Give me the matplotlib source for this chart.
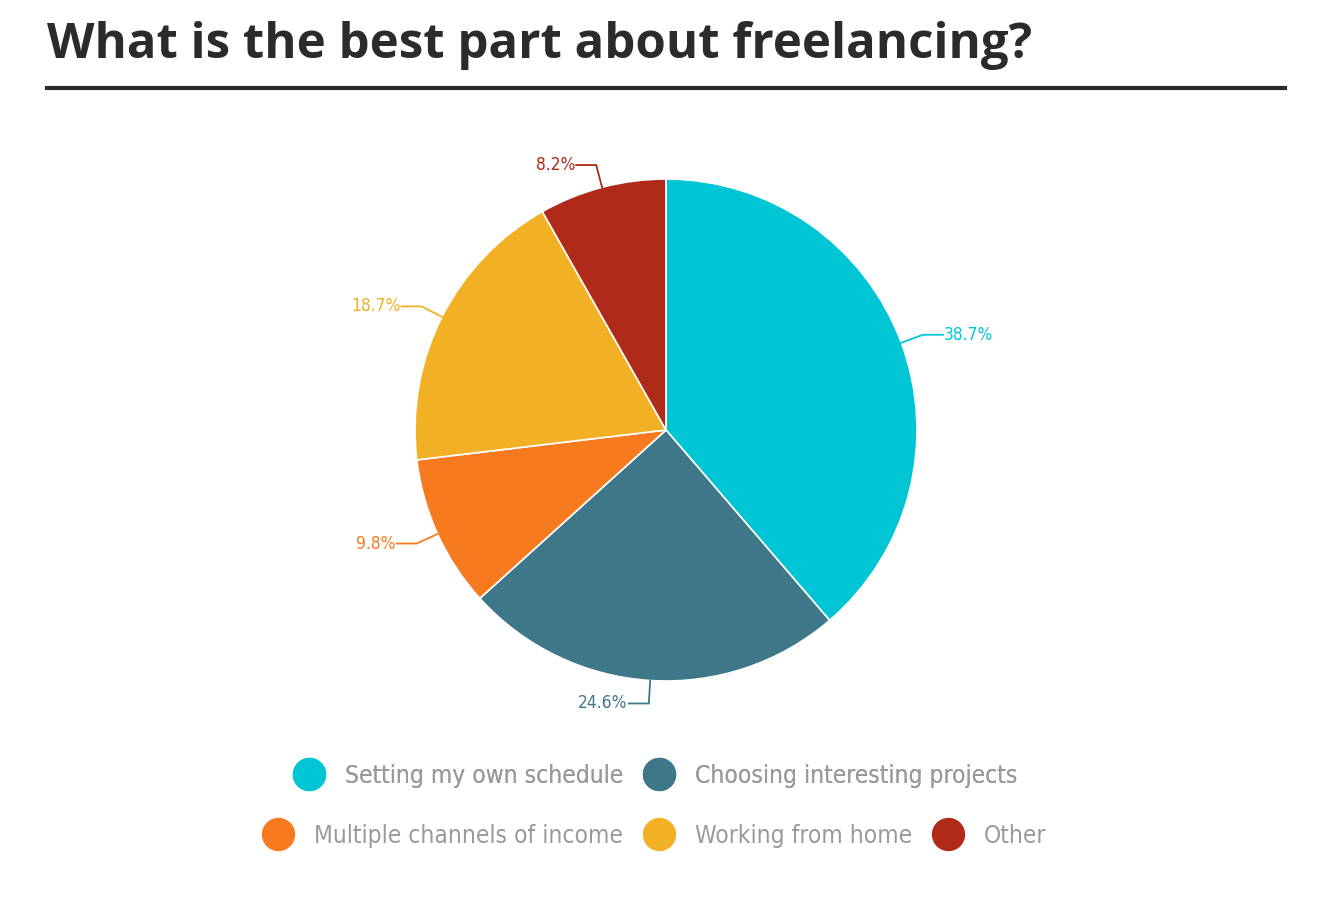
import numpy as np
import matplotlib.pyplot as plt
from matplotlib.lines import Line2D
from matplotlib import font_manager
from matplotlib.font_manager import FontProperties

labels = ["Setting my own schedule", "Choosing interesting projects",
          "Multiple channels of income", "Working from home", "Other"]
shares = [38.7, 24.6, 9.8, 18.7, 8.2]
colors = ["#00C5D5", "#3D7788", "#F87A1E", "#F2B124", "#B02A19"]

# look for a condensed face (the original uses a narrow sans)
narrow_file = None
for f in font_manager.fontManager.ttflist:
    tag = (f.name + " " + f.fname).lower()
    if ("condensed" in tag or "narrow" in tag) and f.weight in (400, "normal", "regular") \
            and f.style == "normal" and "semi" not in tag and "extra" not in tag:
        narrow_file = f.fname
        break
found = narrow_file is not None


def nfont(size):
    if found:
        return FontProperties(fname=narrow_file, size=size)
    return FontProperties(family="DejaVu Sans", size=size * 0.82)


W, H = 1344, 898
fig = plt.figure(figsize=(W / 100, H / 100), dpi=100)
ax = fig.add_axes([0, 0, 1, 1])

cx, cy, r = 666, H - 430, 251
wedges, _ = ax.pie(shares, colors=colors, startangle=90, counterclock=False,
                   center=(cx, cy), radius=r,
                   wedgeprops=dict(edgecolor="white", linewidth=1.2))

# leader lines + percentage labels
for w, val, col in zip(wedges, shares, colors):
    ang = np.deg2rad((w.theta1 + w.theta2) / 2)
    x0, y0 = cx + r * np.cos(ang), cy + r * np.sin(ang)
    x1, y1 = cx + (r + 23) * np.cos(ang), cy + (r + 23) * np.sin(ang)
    side = 1 if np.cos(ang) > 0 else -1
    x2 = x1 + side * 20
    ax.plot([x0, x1, x2], [y0, y1, y1], color=col, lw=1.3, solid_joinstyle="miter")
    ax.text(x2 + side * 1, y1, f"{val}%", color=col, fontproperties=nfont(12.5),
            ha="left" if side > 0 else "right", va="center")

ax.set_xlim(0, W)
ax.set_ylim(0, H)
ax.set_aspect("auto")
ax.axis("off")

# title and rule
fig.text(47 / W, 1 - 46 / H, "What is the best part about freelancing?",
         fontsize=35.4, fontweight="bold", family="Open Sans", color="#2B2B2B",
         ha="left", va="center")
fig.add_artist(Line2D([47 / W, 1285 / W], [1 - 88 / H, 1 - 88 / H],
                      color="#2B2B2B", lw=3))

handles = [Line2D([], [], marker="o", ls="", markersize=23, color=c) for c in colors]
leg_kw = dict(frameon=False, handletextpad=0.87, columnspacing=0.87,
              prop=nfont(17.6), labelcolor="#9A9A9A",
              handlelength=1.2, borderaxespad=0)
leg1 = fig.legend(handles[:2], labels[:2], ncol=2, loc="center",
                  bbox_to_anchor=(656 / W, 1 - 776 / H), **leg_kw)
fig.add_artist(leg1)
fig.legend(handles[2:], labels[2:], ncol=3, loc="center",
           bbox_to_anchor=(655 / W, 1 - 836 / H), **leg_kw)

fig.savefig("out.png", dpi=100, facecolor="white")
